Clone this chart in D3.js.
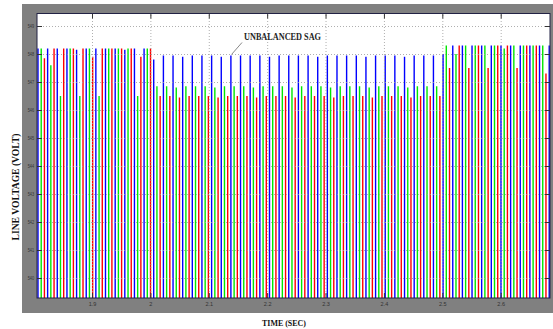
<!DOCTYPE html>
<html>
<head>
<meta charset="utf-8">
<script src="https://cdn.jsdelivr.net/npm/d3@7"></script>
<style>
    body { margin: 0; background: #ffffff; }
    svg { display: block; }
</style>
</head>
<body>
<div id="my_dataviz"><svg></svg></div>
<script>
// peak instants of the first line voltage (one per cycle)
var cycleTimes = [1.8075, 1.8240, 1.8405, 1.8571, 1.8736, 1.8901, 1.9066, 1.9231, 1.9397, 1.9562,
    1.9727, 1.9892, 2.0057, 2.0223, 2.0388, 2.0553, 2.0718, 2.0883, 2.1049, 2.1214,
    2.1379, 2.1544, 2.1709, 2.1875, 2.2040, 2.2205, 2.2370, 2.2535, 2.2701, 2.2866,
    2.3031, 2.3196, 2.3361, 2.3527, 2.3692, 2.3857, 2.4022, 2.4187, 2.4353, 2.4518,
    2.4683, 2.4848, 2.5013, 2.5179, 2.5344, 2.5509, 2.5674, 2.5839, 2.6005, 2.6170,
    2.6335, 2.6500, 2.6665, 2.6831];

// delay of each phase peak after the cycle instant (sec)
var phaseDelays = [0, 0.00551, 0.01101];
var phaseColors = ["#0000ff", "#00e600", "#ff0000"];

var bluePeaks = [548.2, 548.2, 548.2, 548.2, 548.15, 548.2, 548.2, 548.2, 548.2, 548.15,
    548.2, 548.2, 547.8, 547.95, 547.95, 547.9, 547.95, 547.95, 547.95, 547.9,
    547.95, 547.95, 547.95, 547.95, 547.9, 547.95, 547.95, 547.95, 547.95, 547.9,
    547.95, 547.95, 547.95, 547.95, 547.9, 547.95, 547.95, 547.95, 547.9, 547.95,
    547.95, 547.95, 548.0, 548.3, 548.3, 548.3, 548.3, 548.3, 548.3, 548.3,
    548.3, 548.3, 548.3, 548.3];

var greenPeaks = [548.2, 547.6, 546.5, 548.2, 546.5, 548.2, 546.5, 548.2, 548.2, 548.2,
    546.5, 548.2, 546.85, 546.85, 546.8, 546.85, 546.85, 546.85, 546.8, 546.85,
    546.85, 546.85, 546.8, 546.85, 546.85, 546.85, 546.8, 546.85, 546.85, 546.85,
    546.8, 546.85, 546.85, 546.85, 546.8, 546.85, 546.85, 546.85, 546.8, 546.85,
    546.85, 546.85, 548.3, 548.0, 548.3, 548.3, 548.3, 548.3, 548.2, 548.3,
    548.3, 548.3, 548.3, 548.3];

var redPeaks = [547.85, 548.2, 548.2, 548.2, 548.2, 547.9, 548.2, 548.2, 548.2, 548.2,
    547.9, 548.2, 546.5, 546.5, 546.45, 546.5, 546.5, 546.5, 546.45, 546.5,
    546.5, 546.5, 546.45, 546.5, 546.5, 546.5, 546.45, 546.5, 546.5, 546.5,
    546.45, 546.5, 546.5, 546.5, 546.45, 546.5, 546.5, 546.5, 546.45, 546.5,
    546.5, 546.5, 547.5, 548.3, 547.5, 548.3, 547.5, 548.3, 548.3, 547.5,
    548.3, 548.3, 547.3, 548.3];

var yTicks = [540, 541, 542, 543, 544, 545, 546, 547, 548, 549];
var xTicks = [1.9, 2.0, 2.1, 2.2, 2.3, 2.4, 2.5, 2.6];
var xTickLabels = ["1.9", "2", "2.1", "2.2", "2.3", "2.4", "2.5", "2.6"];

var box = {left: 37, top: 13.5, right: 550, bottom: 298};

var svg = d3.select("#my_dataviz")
    .select("svg")
    .attr("width", 553)
    .attr("height", 329);

// figure background
svg.append("rect")
    .attr("x", 22).attr("y", 4)
    .attr("width", 531).attr("height", 309)
    .attr("fill", "#808080");

svg.append("rect")
    .attr("x", box.left).attr("y", box.top)
    .attr("width", box.right - box.left).attr("height", box.bottom - box.top)
    .attr("fill", "#ffffff");

svg.append("clipPath")
    .attr("id", "plotclip")
    .append("rect")
    .attr("x", box.left).attr("y", box.top)
    .attr("width", box.right - box.left).attr("height", box.bottom - box.top);

var xAxis = d3.scaleLinear().domain([1.9, 2.6]).range([92, 500.7]);
var yAxis = d3.scaleLinear().domain([540, 549]).range([278, 26]);

// spikes (peaks of the three line voltages)
var spikes = [];
var peakSets = [bluePeaks, greenPeaks, redPeaks];
cycleTimes.forEach(function (t, i) {
    for (var p = 0; p < 3; p++) {
        spikes.push({t: t + phaseDelays[p], v: peakSets[p][i], c: phaseColors[p]});
    }
});

svg.append("g")
    .attr("clip-path", "url(#plotclip)")
    .selectAll("line")
    .data(spikes)
    .enter()
    .append("line")
    .attr("x1", function (d) { return xAxis(d.t); })
    .attr("x2", function (d) { return xAxis(d.t); })
    .attr("y1", function (d) { return yAxis(d.v); })
    .attr("y2", box.bottom + 2)
    .attr("stroke", function (d) { return d.c; })
    .attr("stroke-width", 1.4);

// dotted grid
var grid = svg.append("g")
    .attr("clip-path", "url(#plotclip)");
grid.append("g")
    .attr("transform", "translate(0," + box.bottom + ")")
    .call(d3.axisBottom(xAxis).tickValues(xTicks).tickSize(-(box.bottom - box.top)).tickFormat(""));
grid.append("g")
    .attr("transform", "translate(" + box.left + ",0)")
    .call(d3.axisLeft(yAxis).tickValues(yTicks).tickSize(-(box.right - box.left)).tickFormat(""));
grid.selectAll(".domain").remove();
grid.selectAll("line")
    .attr("stroke", "#9a9a9a")
    .attr("stroke-width", 0.8)
    .attr("stroke-dasharray", "1,2");

// inward ticks and labels
var bottomAxis = svg.append("g")
    .attr("transform", "translate(0," + box.bottom + ")")
    .call(d3.axisBottom(xAxis).tickValues(xTicks).tickSizeInner(-5).tickSizeOuter(0).tickPadding(3.6)
        .tickFormat(function (d, i) { return xTickLabels[i]; }));
var topAxis = svg.append("g")
    .attr("transform", "translate(0," + box.top + ")")
    .call(d3.axisTop(xAxis).tickValues(xTicks).tickSizeInner(-5).tickSizeOuter(0).tickFormat(""));
var leftAxis = svg.append("g")
    .attr("transform", "translate(" + box.left + ",0)")
    .call(d3.axisLeft(yAxis).tickValues(yTicks).tickSizeInner(-5).tickSizeOuter(0).tickPadding(3));
var rightAxis = svg.append("g")
    .attr("transform", "translate(" + box.right + ",0)")
    .call(d3.axisRight(yAxis).tickValues(yTicks).tickSizeInner(-5).tickSizeOuter(0).tickFormat(""));

[bottomAxis, topAxis, leftAxis, rightAxis].forEach(function (a) {
    a.select(".domain").remove();
    a.selectAll("line").attr("stroke", "#333333").attr("stroke-width", 1);
    a.selectAll("text")
        .attr("fill", "#333333")
        .style("font-family", "Liberation Sans, Arial, sans-serif")
        .style("font-size", "5.5px");
});
leftAxis.selectAll("text")
    .attr("textLength", 6.3)
    .attr("lengthAdjust", "spacingAndGlyphs");

// axes box
svg.append("rect")
    .attr("x", box.left).attr("y", box.top)
    .attr("width", box.right - box.left).attr("height", box.bottom - box.top)
    .attr("fill", "none")
    .attr("stroke", "#222244")
    .attr("stroke-width", 1);

// annotation
svg.append("text")
    .attr("x", 244)
    .attr("y", 40)
    .attr("textLength", 77)
    .attr("lengthAdjust", "spacingAndGlyphs")
    .style("font-family", "Liberation Serif, Times New Roman, serif")
    .style("font-weight", "bold")
    .style("font-size", "9.5px")
    .attr("fill", "#222222")
    .text("UNBALANCED SAG");

svg.append("line")
    .attr("x1", 242).attr("y1", 42.5)
    .attr("x2", 231.5).attr("y2", 54.5)
    .attr("stroke", "#555555")
    .attr("stroke-width", 0.7);

// axis titles
svg.append("text")
    .attr("x", 262)
    .attr("y", 326)
    .attr("textLength", 44)
    .attr("lengthAdjust", "spacingAndGlyphs")
    .style("font-family", "Liberation Serif, Times New Roman, serif")
    .style("font-weight", "bold")
    .style("font-size", "9px")
    .attr("fill", "#111111")
    .text("TIME (SEC)");

svg.append("text")
    .attr("transform", "translate(18.5,187) rotate(-90)")
    .attr("text-anchor", "middle")
    .attr("textLength", 107)
    .attr("lengthAdjust", "spacingAndGlyphs")
    .style("font-family", "Liberation Serif, Times New Roman, serif")
    .style("font-weight", "bold")
    .style("font-size", "9.5px")
    .attr("fill", "#111111")
    .text("LINE VOLTAGE (VOLT)");
</script>
</body>
</html>
